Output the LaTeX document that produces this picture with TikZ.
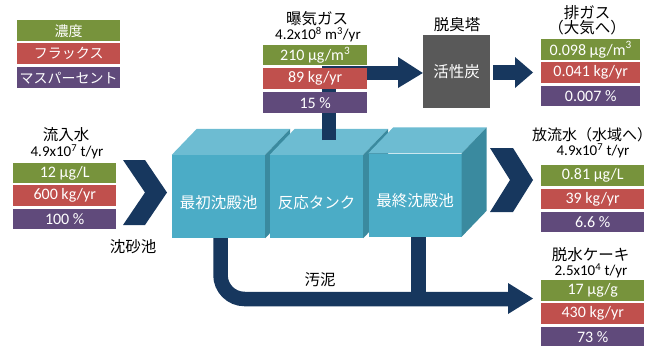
\documentclass[tikz,border=0pt]{standalone}
\usepackage{fontspec}
\setmainfont{Carlito}
\newfontfamily\jp{Noto Sans CJK JP}
\definecolor{cgreen}{HTML}{77933C}
\definecolor{cred}{HTML}{C0504D}
\definecolor{cpurple}{HTML}{604A7B}
\definecolor{navy}{HTML}{17375E}
\definecolor{tankfront}{HTML}{4BACC6}
\definecolor{tanktop}{HTML}{6DBCD2}
\definecolor{tankside}{HTML}{3A8A9F}
\definecolor{carbongray}{HTML}{595959}
\tikzset{
  dbox/.style={anchor=north west, minimum width=103pt, minimum height=21pt, inner sep=0pt, text=white, font=\fontsize{16}{16}\selectfont},
  gbox/.style={dbox, fill=cgreen},
  rbox/.style={dbox, fill=cred},
  pbox/.style={dbox, fill=cpurple},
  jtitle/.style={inner sep=0pt, font=\jp\fontsize{15.5}{16}\selectfont},
  ntitle/.style={inner sep=0pt, font=\fontsize{15}{15}\selectfont},
  tank/.style={draw=none, fill=tankfront, minimum width=93pt, minimum height=83pt, inner sep=0pt},
  tanklabel/.style={inner sep=0pt, text=white, font=\jp\fontsize{15.5}{16}\selectfont},
  pipe/.style={draw=navy, line width=14.5pt},
  headfill/.style={fill=navy}
}
\newcommand\mytank[4]{%
  \node[tank] (#1) at (#2,#3) {};
  \fill[tanktop] (#1.north west) -- ++(25,-26) -- ([shift={(25,-26)}]#1.north east) -- (#1.north east) -- cycle;
  \fill[tankside] (#1.north east) -- ++(25,-26) -- ([shift={(25,-26)}]#1.south east) -- (#1.south east) -- cycle;
  \node[tanklabel] (#1l) at ([yshift=-6]#1.center) {#4};
}
\begin{document}
\begin{tikzpicture}[x=1pt,y=-1pt]
\useasboundingbox (0,0) rectangle (652,346);

% legend
\node[gbox, font=\jp\fontsize{14}{14}\selectfont] (lg1) at (17,20) {濃度};
\node[rbox, font=\jp\fontsize{14}{14}\selectfont] (lg2) at (17,43) {フラックス};
\node[pbox, font=\jp\fontsize{14}{14}\selectfont] (lg3) at (17,67) {マスパーセント};

% sludge pipes (behind tanks)
\coordinate (s1) at (220.5,230);
\coordinate (s3) at (418.5,230);
\coordinate (sj) at (418.5,299);
\coordinate (send) at (509,299);
\draw[pipe, rounded corners=24pt] (s1) |- (send);
\draw[pipe] (s3) -- (sj);
\fill[headfill] (508,283) -- (533,298.5) -- (508,314) -- cycle;
\node[jtitle] (sludge) at (320,280) {汚泥};

% tanks
\mytank{t1}{218.5}{196.5}{最初沈殿池}
\mytank{t2}{316.5}{196.5}{反応タンク}
\mytank{t3}{415}{195}{最終沈殿池}

% inflow chevron
\fill[navy] (123,160) -- (145,160) -- (167,192.5) -- (145,225) -- (123,225) -- (145,192.5) -- cycle;
% outflow chevron
\fill[navy] (490,148) -- (513,148) -- (533,180) -- (513,212) -- (490,212) -- (510,180) -- cycle;

% aeration pipe
\coordinate (a1) at (329,140);
\coordinate (a2) at (329,73);
\coordinate (a3) at (399,73);
\draw[pipe, line width=14pt] (a1) -- (a2) -- (a3);

% carbon tower
\node[fill=carbongray, minimum width=67pt, minimum height=73pt, inner sep=0pt, text=white, font=\jp\fontsize{15.5}{16}\selectfont] (carbon) at (456.5,71.5) {活性炭};
\node[jtitle] (towert) at (457,25) {脱臭塔};
\fill[headfill] (398,57) -- (carbon.west |- a3) -- (398,88) -- cycle;
\coordinate (c1) at ([xshift=3]carbon.east |- 0,72.5);
\coordinate (c2) at (516,72.5);
\draw[pipe, line width=15pt] (c1) -- (c2);
\fill[headfill] (515,57) -- (533,72.5) -- (515,88) -- cycle;

% aeration gas
\node[jtitle] (aert) at (317,19) {曝気ガス};
\node[ntitle] (aern) at (318,35) {4.2x10\textsuperscript{8} m\textsuperscript{3}/yr};
\node[gbox, minimum width=104pt, minimum height=20pt] (ag) at (263,45) {210 μg/m\textsuperscript{3}};
\node[rbox, minimum width=104pt] (ar) at (263,68) {89 kg/yr};
\node[pbox, minimum width=104pt] (ap) at (263,92) {15 \%};

% exhaust
\node[jtitle] (ext1) at (587,13) {排ガス};
\node[jtitle] (ext2) at (587,28) {（大気へ）};
\node[gbox, minimum width=99pt] (eg) at (541,39) {0.098 μg/m\textsuperscript{3}};
\node[rbox, minimum width=99pt] (er) at (541,62) {0.041 kg/yr};
\node[pbox, minimum width=99pt, minimum height=20pt] (ep) at (541,86) {0.007 \%};

% inflow
\node[jtitle] (int) at (66,135) {流入水};
\node[ntitle] (inn) at (67,152) {4.9x10\textsuperscript{7} t/yr};
\node[gbox, minimum height=20pt] (ig) at (13,163) {12 μg/L};
\node[rbox] (ir) at (13,185) {600 kg/yr};
\node[pbox, minimum height=20pt] (ip) at (13,209) {100 \%};
\node[jtitle] (grit) at (133,247) {沈砂池};

% outflow
\node[jtitle, font=\jp\fontsize{15}{16}\selectfont] (outt) at (592,135) {放流水（水域へ）};
\node[ntitle] (outn) at (593,151) {4.9x10\textsuperscript{7} t/yr};
\node[gbox] (og) at (541,165) {0.81 μg/L};
\node[rbox, minimum height=20pt] (or) at (541,189) {39 kg/yr};
\node[pbox, minimum height=20pt] (op) at (541,212) {6.6 \%};

% dewatered cake
\node[jtitle] (cakt) at (590.5,255) {脱水ケーキ};
\node[ntitle] (cakn) at (591,271) {2.5x10\textsuperscript{4} t/yr};
\node[gbox] (cg) at (541,280) {17 μg/g};
\node[rbox] (cr) at (541,303) {430 kg/yr};
\node[pbox, minimum height=19pt] (cp) at (541,327) {73 \%};
\end{tikzpicture}
\end{document}
